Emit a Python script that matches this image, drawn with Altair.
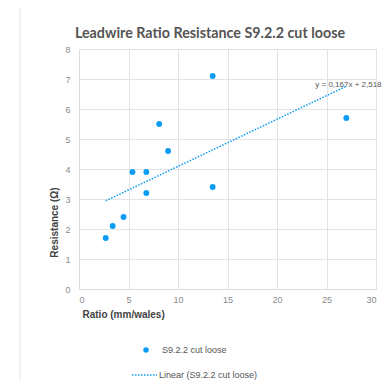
import altair as alt
import pandas as pd

ratio = [2.7, 3.4, 4.5, 5.4, 6.8, 6.8, 8.1, 9.0, 13.5, 13.5, 27.0]
resistance = [1.7, 2.1, 2.4, 3.9, 3.9, 3.2, 5.5, 4.6, 7.1, 3.4, 5.7]
series_name = ["S9.2.2 cut loose"]
trend_name = ["Linear (S9.2.2 cut loose)"]
eq_label = ["y = 0,167x + 2,518"]
title_text = ["Leadwire Ratio Resistance S9.2.2 cut loose"]

BLUE = "#0a9cf5"
FONT = "Liberation Sans"

df = pd.DataFrame({"x": ratio, "y": resistance})

xs = alt.Scale(domain=[0, 30], nice=False)
ys = alt.Scale(domain=[0, 8], nice=False)

xaxis = alt.Axis(values=[0, 5, 10, 15, 20, 25, 30], grid=True, ticks=False,
                 labelOverlap=False,
                 labelFont=FONT, labelFontSize=9, labelColor="#8a8a8a", labelPadding=6,
                 domainColor="#dcdcdc", gridColor="#e3e3e3",
                 title="Ratio (mm/wales)", titleFont=FONT, titleFontSize=10,
                 titleFontWeight="bold", titleColor="#444444",
                 titleAnchor="start", titleAlign="left", titleX=3, titleY=20,
                 titleBaseline="top")
yaxis = alt.Axis(values=[0, 1, 2, 3, 4, 5, 6, 7, 8], grid=True, ticks=False,
                 labelOverlap=False,
                 labelFont=FONT, labelFontSize=9, labelColor="#8a8a8a", labelPadding=9,
                 domainColor="#dcdcdc", gridColor="#e3e3e3",
                 title="Resistance (Ω)", titleFont=FONT, titleFontSize=10,
                 titleFontWeight="bold", titleColor="#444444",
                 titleAngle=270, titleAlign="center", titleBaseline="middle",
                 titleX=-25, titleY=173)

X = alt.X("x:Q", scale=xs, axis=xaxis)
Y = alt.Y("y:Q", scale=ys, axis=yaxis)

base = alt.Chart(df)

points = base.mark_circle(size=34, opacity=1, color=BLUE).encode(x=X, y=Y)

trend = base.transform_regression("x", "y").mark_line(
    color=BLUE, strokeWidth=1.5, strokeDash=[1.5, 1.5]
).encode(x=X, y=Y)

eq = base.transform_regression("x", "y").transform_window(
    rank="row_number()", sort=[alt.SortField("x", order="descending")]
).transform_filter("datum.rank == 1").mark_text(
    text=eq_label[0], align="left", baseline="middle", dx=-31, dy=-1,
    font=FONT, fontSize=8, color="#555555"
).encode(x=X, y=Y)

title = alt.Chart(pd.DataFrame({"t": title_text})).mark_text(
    align="center", baseline="alphabetic", font="Lato", fontSize=14.3,
    fontWeight="bold", color="#555555"
).encode(text="t:N", x=alt.value(131), y=alt.value(-11))

leg1 = pd.DataFrame({"t": series_name})
leg2 = pd.DataFrame({"t": trend_name})
leg_dot = alt.Chart(leg1).mark_circle(size=30, opacity=1, color=BLUE).encode(
    x=alt.value(67), y=alt.value(301))
leg_txt1 = alt.Chart(leg1).mark_text(align="left", baseline="middle", font=FONT,
                                      fontSize=9, color="#555555").encode(
    text="t:N", x=alt.value(83), y=alt.value(301))
leg_line = alt.Chart(leg2).mark_rule(color=BLUE, strokeWidth=1.5, strokeDash=[1.5, 1.5]).encode(
    x=alt.value(53), x2=alt.value(78), y=alt.value(326))
leg_txt2 = alt.Chart(leg2).mark_text(align="left", baseline="middle", font=FONT,
                                      fontSize=9, color="#555555").encode(
    text="t:N", x=alt.value(80), y=alt.value(326))

frame_left = alt.Chart(leg1).mark_rule(color="#e6e6e6", strokeWidth=1).encode(
    x=alt.value(-59), y=alt.value(-42), y2=alt.value(340))
frame_top = alt.Chart(leg1).mark_rule(color="#e6e6e6", strokeWidth=1).encode(
    x=alt.value(-59), x2=alt.value(320), y=alt.value(-42))

chart = alt.layer(
    frame_left, frame_top, trend, points, eq, title, leg_dot, leg_txt1, leg_line, leg_txt2
).properties(
    width=297, height=240, autosize=alt.AutoSizeParams(type="none"),
    padding={"left": 71, "top": 41, "right": 8, "bottom": 91}
).configure_view(stroke="#dcdcdc").configure(background="white")

chart.save("out.html", embed_options={"renderer": "svg", "actions": False})
